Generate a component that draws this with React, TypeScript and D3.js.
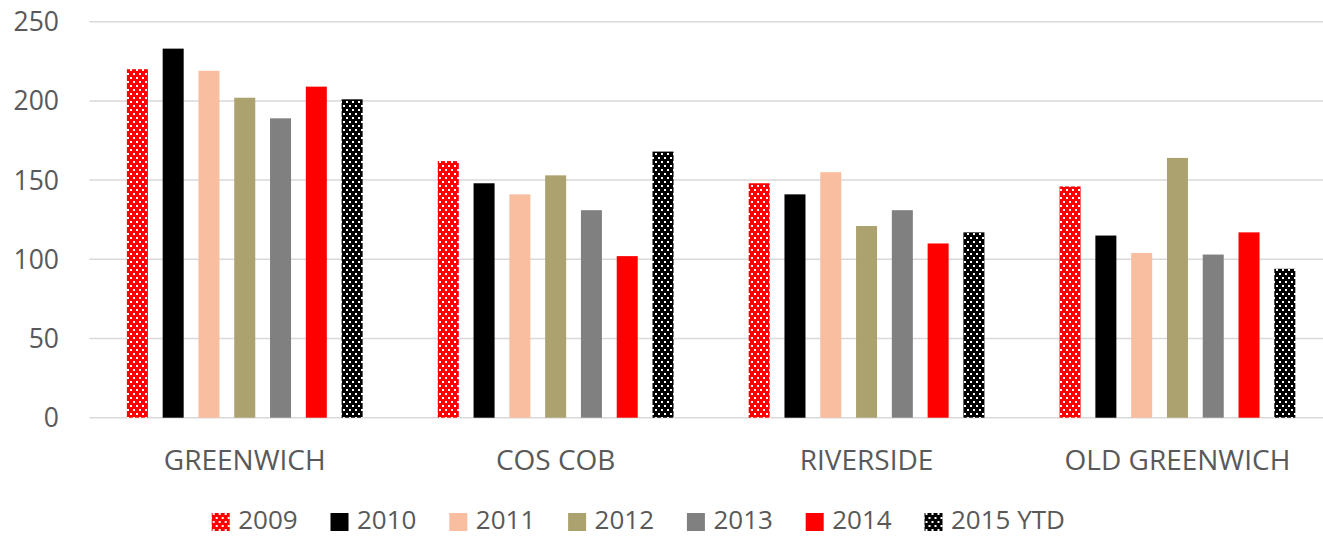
import * as d3 from "d3";

const categories = ["GREENWICH", "COS COB", "RIVERSIDE", "OLD GREENWICH"];
const seriesNames = ["2009", "2010", "2011", "2012", "2013", "2014", "2015 YTD"];
const values2009 = [220, 162, 148, 146];
const values2010 = [233, 148, 141, 115];
const values2011 = [219, 141, 155, 104];
const values2012 = [202, 153, 121, 164];
const values2013 = [189, 131, 131, 103];
const values2014 = [209, 102, 110, 117];
const values2015 = [201, 168, 117, 94];
const yTicks = [0, 50, 100, 150, 200, 250];

const seriesValues = [
  values2009,
  values2010,
  values2011,
  values2012,
  values2013,
  values2014,
  values2015,
];

const fills = [
  "url(#dotsRed)",
  "#000000",
  "#F9BEA0",
  "#ACA270",
  "#808080",
  "#FF0000",
  "url(#dotsBlack)",
];

const width = 1323;
const height = 537;
const font = "'Open Sans', 'Liberation Sans', sans-serif";
const textColor = "#595959";

export default function App() {
  const y = d3.scaleLinear([0, 250], [417.7, 21.7]);
  const x0 = d3.scaleBand(categories, [89.3, 1332.9]);
  const x1 = d3
    .scaleBand(seriesNames, [0, x0.bandwidth()])
    .paddingInner(0.413)
    .paddingOuter(1.05);

  // legend entries are evenly spaced
  const legendX = d3.scaleLinear([0, 1], [211.7, 330.5]);

  return (
    <svg
      width={width}
      height={height}
      style={{ position: "absolute", left: 0, top: 0, background: "#fff" }}
      fontFamily={font}
    >
      <defs>
        <pattern id="dotsRed" width="6" height="8" patternUnits="userSpaceOnUse">
          <rect width="6" height="8" fill="#FF0000" />
          <rect x="1" y="1" width="2" height="2" fill="#fff" />
          <rect x="4" y="5" width="2" height="2" fill="#fff" />
        </pattern>
        <pattern id="dotsBlack" width="6" height="8" patternUnits="userSpaceOnUse">
          <rect width="6" height="8" fill="#000000" />
          <rect x="1" y="1" width="2" height="2" fill="#fff" />
          <rect x="4" y="5" width="2" height="2" fill="#fff" />
        </pattern>
      </defs>

      {/* gridlines */}
      <g stroke="#d9d9d9" strokeWidth="1.5">
        {yTicks.map((t) => (
          <line key={t} x1={x0.range()[0]} x2={x0.range()[1]} y1={y(t)} y2={y(t)} />
        ))}
      </g>

      {/* y tick labels */}
      <g fill={textColor} fontSize="26.5" textAnchor="end">
        {yTicks.map((t) => (
          <text key={t} x={59} y={y(t) + 9.5}>
            {t}
          </text>
        ))}
      </g>

      {/* bars */}
      {seriesNames.map((s, si) => (
        <g key={s} fill={fills[si]}>
          {categories.map((c, ci) => (
            <rect
              key={c}
              x={x0(c)! + x1(s)!}
              y={y(seriesValues[si][ci])}
              width={x1.bandwidth()}
              height={y(0) - y(seriesValues[si][ci])}
            />
          ))}
        </g>
      ))}

      {/* category labels */}
      <g fill={textColor} fontSize="28" textAnchor="middle">
        {categories.map((c) => (
          <text key={c} x={x0(c)! + x0.bandwidth() / 2} y={470}>
            {c}
          </text>
        ))}
      </g>

      {/* legend */}
      <g fontSize="26" fill={textColor}>
        {seriesNames.map((s, si) => (
          <g key={s} transform={`translate(${legendX(si)},0)`}>
            <rect x={0} y={513} width={18} height={18} fill={fills[si]} />
            <text x={26.5} y={528.5}>
              {s}
            </text>
          </g>
        ))}
      </g>
    </svg>
  );
}
